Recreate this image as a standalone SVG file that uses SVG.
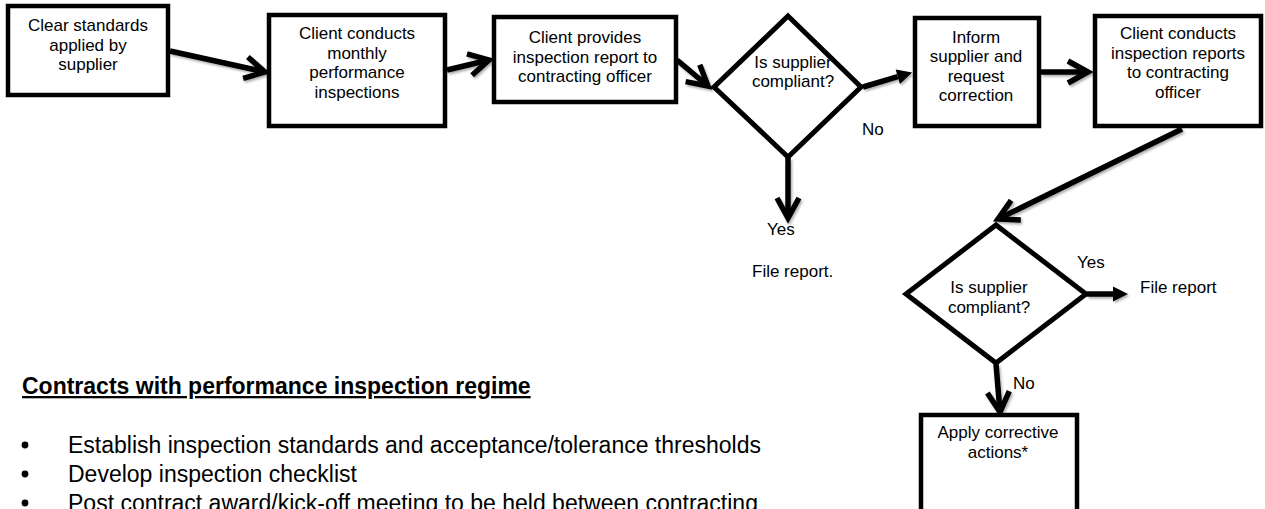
<svg xmlns="http://www.w3.org/2000/svg" width="1265" height="509" viewBox="0 0 1265 509">
  <style>
    .box { fill: #fff; stroke: #000; stroke-width: 4.5; }
    .dia { fill: #fff; stroke: #000; stroke-width: 5; stroke-linejoin: miter; }
    .t { font-family: "Liberation Sans", Arial, sans-serif; font-size: 17px; fill: #000; text-anchor: middle; }
    .l { font-family: "Liberation Sans", Arial, sans-serif; font-size: 17px; fill: #000; }
    .conn { fill: none; stroke: #000; stroke-width: 5.5; stroke-linecap: butt; }
    .big { font-family: "Liberation Sans", Arial, sans-serif; font-size: 23px; fill: #000; }
  </style>
  <defs>
    <filter id="sh" x="-20%" y="-20%" width="140%" height="140%">
      <feDropShadow dx="1.5" dy="2" stdDeviation="0.8" flood-color="#000" flood-opacity="0.3"/>
    </filter>
    <marker id="chev" markerUnits="userSpaceOnUse" viewBox="-30 -20 40 40" refX="0" refY="0" markerWidth="40" markerHeight="40" orient="auto">
      <path d="M-20,-11 L0,0 L-20,11" fill="none" stroke="#000" stroke-width="5.5" stroke-linejoin="miter"/>
    </marker>
    <marker id="tri" markerUnits="userSpaceOnUse" viewBox="-2 -10 20 20" refX="0" refY="0" markerWidth="20" markerHeight="20" orient="auto">
      <path d="M0,-7.5 L15,0 L0,7.5 Z" fill="#000"/>
    </marker>
  </defs>
  <rect width="1265" height="509" fill="#fff"/>

  <g id="connectors" filter="url(#sh)">
    <line class="conn" x1="170" y1="51" x2="265" y2="72" marker-end="url(#chev)"/>
    <line class="conn" x1="447" y1="70" x2="489" y2="60" marker-end="url(#chev)"/>
    <line class="conn" x1="677" y1="60" x2="708" y2="86" marker-end="url(#chev)"/>
    <line class="conn" x1="788" y1="158" x2="788" y2="218" marker-end="url(#chev)"/>
    <line class="conn" x1="863" y1="87" x2="897.8" y2="76.7" marker-end="url(#tri)"/>
    <line class="conn" x1="1041" y1="72" x2="1088" y2="72" marker-end="url(#chev)"/>
    <line class="conn" x1="1182" y1="129" x2="998" y2="219" marker-end="url(#chev)"/>
    <line class="conn" x1="1087" y1="294" x2="1113" y2="294" marker-end="url(#tri)"/>
    <line class="conn" x1="996" y1="364" x2="1000" y2="412" marker-end="url(#chev)"/>
  </g>

  <g id="n1">
    <rect class="box" x="8" y="6" width="160" height="89"/>
    <text class="t" x="88" y="31">Clear standards</text>
    <text class="t" x="88" y="50.5">applied by</text>
    <text class="t" x="88" y="70">supplier</text>
  </g>
  <g id="n2">
    <rect class="box" x="269" y="15" width="176" height="111"/>
    <text class="t" x="357" y="39">Client conducts</text>
    <text class="t" x="357" y="58.5">monthly</text>
    <text class="t" x="357" y="78">performance</text>
    <text class="t" x="357" y="97.5">inspections</text>
  </g>
  <g id="n3">
    <rect class="box" x="494" y="17" width="182" height="85"/>
    <text class="t" x="585" y="43">Client provides</text>
    <text class="t" x="585" y="62.5">inspection report to</text>
    <text class="t" x="585" y="82">contracting officer</text>
  </g>
  <g id="d1">
    <polygon class="dia" points="788,16 861,87 788,157 714,87"/>
    <text class="t" x="793" y="68">Is supplier</text>
    <text class="t" x="793" y="87">compliant?</text>
  </g>
  <g id="n4">
    <rect class="box" x="915" y="18" width="124" height="108"/>
    <text class="t" x="976" y="42.5">Inform</text>
    <text class="t" x="976" y="62">supplier and</text>
    <text class="t" x="976" y="81.5">request</text>
    <text class="t" x="976" y="101">correction</text>
  </g>
  <g id="n5">
    <rect class="box" x="1095" y="16" width="166" height="110"/>
    <text class="t" x="1178" y="39">Client conducts</text>
    <text class="t" x="1178" y="58.5">inspection reports</text>
    <text class="t" x="1178" y="78">to contracting</text>
    <text class="t" x="1178" y="97.5">officer</text>
  </g>
  <g id="d2">
    <polygon class="dia" points="996,225 1086,294 996,363 906,294"/>
    <text class="t" x="989" y="293">Is supplier</text>
    <text class="t" x="989" y="313">compliant?</text>
  </g>
  <g id="n6">
    <rect class="box" x="921" y="415" width="156" height="100"/>
    <text class="t" x="998" y="438">Apply corrective</text>
    <text class="t" x="998" y="458">actions*</text>
  </g>

  <g id="labels">
    <text class="l" x="862" y="135">No</text>
    <text class="l" x="767" y="235">Yes</text>
    <text class="l" x="752" y="277">File report.</text>
    <text class="l" x="1077" y="268">Yes</text>
    <text class="l" x="1140" y="293">File report</text>
    <text class="l" x="1013" y="389">No</text>
  </g>

  <g id="notes">
    <text class="big" x="22" y="394" font-weight="bold" text-decoration="underline">Contracts with performance inspection regime</text>
    <circle cx="25" cy="445" r="3.4" fill="#000"/>
    <circle cx="25" cy="474" r="3.4" fill="#000"/>
    <circle cx="25" cy="503" r="3.4" fill="#000"/>
    <text class="big" x="68" y="452.5">Establish inspection standards and acceptance/tolerance thresholds</text>
    <text class="big" x="68" y="481.5">Develop inspection checklist</text>
    <text class="big" x="68" y="510.5">Post contract award/kick-off meeting to be held between contracting</text>
  </g>
</svg>
